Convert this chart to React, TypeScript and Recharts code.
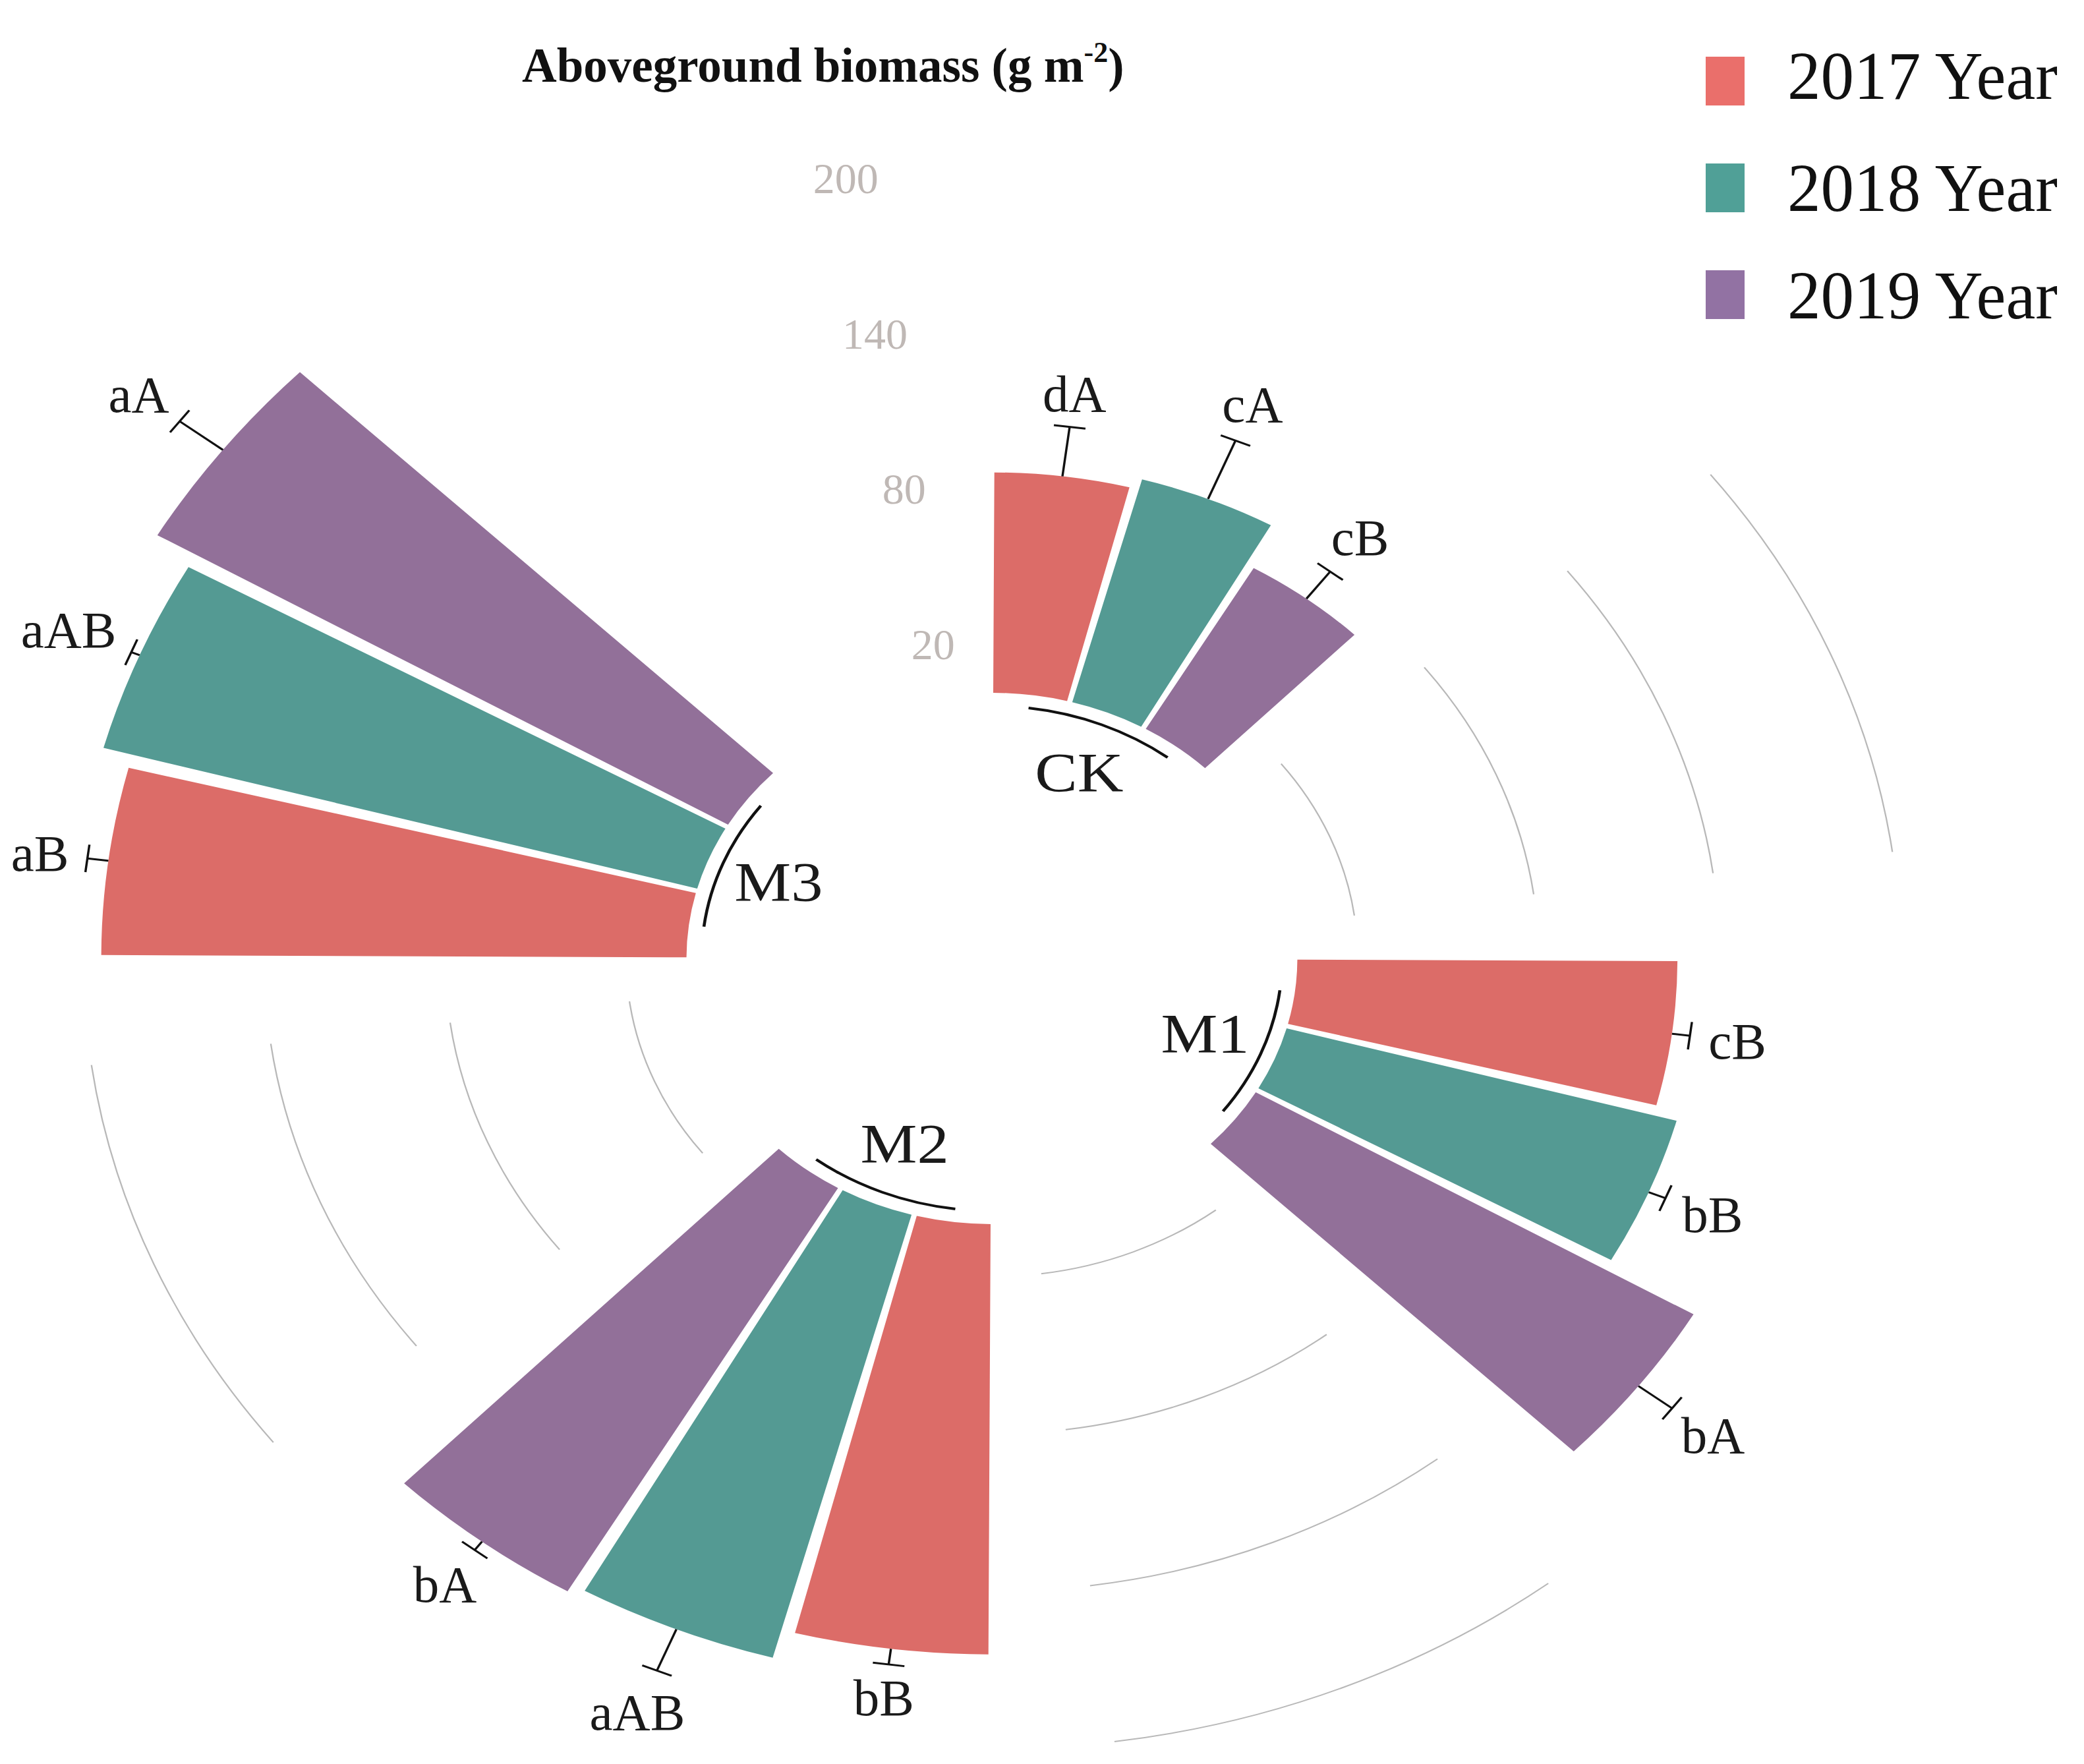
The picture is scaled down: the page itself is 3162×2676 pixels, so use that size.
import React from "react";
import { RadialBarChart, RadialBar, PolarAngleAxis, PolarRadiusAxis, Sector } from "recharts";

// treatments and years
const groups = ["CK", "M1", "M2", "M3"];
const years = ["2017 Year", "2018 Year", "2019 Year"];

// aboveground biomass (g m-2), one value per treatment
const biomass2017 = [84, 126, 164, 194];
const biomass2018 = [88, 134, 175, 204];
const biomass2019 = [71, 168, 178, 219];

// error bars (upper part)
const err2017 = [19, 6, 6, 7];
const err2018 = [24, 6, 17, 3];
const err2019 = [13, 14, 4, 18];

// significance letters
const letters2017 = ["dA", "cB", "bB", "aB"];
const letters2018 = ["cA", "bB", "aAB", "aAB"];
const letters2019 = ["cB", "bA", "bA", "aA"];

const radiusTicks = [20, 80, 140, 200];

const COLORS = ["#DC6C68", "#549A93", "#927099"];
const LEGEND_COLORS = ["#EA6F6B", "#50A097", "#9272A3"];
const FONT = "'Times New Roman', 'Liberation Serif', serif";

// the plot panel of the original is stretched horizontally
const S = 1.15;
const W = 3162;
const H = 2676;
const CX = 1505;
const CY = 1454;
const R0 = 403;
const MAX = 250;
const R1 = R0 + 3.98 * MAX;

const values = [biomass2017, biomass2018, biomass2019];
const errs = [err2017, err2018, err2019];
const letters = [letters2017, letters2018, letters2019];
const topTick = radiusTicks[radiusTicks.length - 1];

type Row = {
  key: string;
  kind: "bar" | "gap" | "grid" | "ticks";
  value: number;
  si?: number;
  group?: string;
  err?: number;
  letter?: string;
};

const rows: Row[] = [];
groups.forEach((g, gi) => {
  years.forEach((_, si) => {
    rows.push({
      key: `${g}-${si}`,
      kind: "bar",
      value: values[si][gi],
      si,
      group: g,
      err: errs[si][gi],
      letter: letters[si][gi],
    });
  });
  const last = gi === groups.length - 1;
  rows.push({ key: `${g}-gap0`, kind: "gap", value: 0 });
  rows.push({ key: `${g}-gap1`, kind: last ? "gap" : "grid", value: last ? 0 : topTick });
  rows.push({ key: `${g}-gap2`, kind: last ? "ticks" : "gap", value: last ? topTick : 0 });
});

const SLOT = 360 / rows.length;
const RAD = Math.PI / 180;

const pt = (cx: number, cy: number, r: number, a: number) => ({
  x: cx + r * Math.cos(-a * RAD),
  y: cy + r * Math.sin(-a * RAD),
});

const arcPath = (cx: number, cy: number, r: number, a1: number, a2: number) => {
  const p1 = pt(cx, cy, r, a1);
  const p2 = pt(cx, cy, r, a2);
  return `M${p1.x},${p1.y} A${r},${r} 0 0 1 ${p2.x},${p2.y}`;
};

const textWidth = (s: string, size: number) =>
  s.split("").reduce((w, c) => w + (c >= "A" && c <= "Z" ? 0.7 : 0.47), 0) * size;

// text drawn without the panel stretch unless asked
const Label = ({ x, y, size, fill, stretched, children }: any) => (
  <text
    transform={`translate(${x},${y})${stretched ? "" : ` scale(${1 / S},1)`}`}
    textAnchor="middle"
    dominantBaseline="central"
    fontFamily={FONT}
    fontSize={size}
    fill={fill}
  >
    {children}
  </text>
);

const BarShape = (props: any) => {
  const { cx, cy, innerRadius, outerRadius, startAngle, endAngle, payload } = props;
  const row: Row = payload;
  const mid = (startAngle + endAngle) / 2;

  if (row.kind === "gap") return <g />;

  if (row.kind === "grid") {
    return (
      <g>
        {radiusTicks.map((t) => {
          const r = innerRadius + ((outerRadius - innerRadius) * t) / row.value;
          return (
            <path
              key={t}
              d={arcPath(cx, cy, r, mid + SLOT, mid - SLOT)}
              fill="none"
              stroke="#B8B8B8"
              strokeWidth={2}
            />
          );
        })}
      </g>
    );
  }

  if (row.kind === "ticks") {
    return (
      <g>
        {radiusTicks.map((t) => {
          const r = innerRadius + ((outerRadius - innerRadius) * t) / row.value;
          const p = pt(cx, cy, r, mid + 1.5);
          return (
            <Label key={t} x={p.x} y={p.y} size={66} fill="#BFB8B5">
              {t}
            </Label>
          );
        })}
      </g>
    );
  }

  const color = COLORS[row.si as number];
  const ppu = (outerRadius - innerRadius) / row.value;
  const capR = outerRadius + (row.err as number) * ppu;
  const base = pt(cx, cy, outerRadius, mid);
  const tip = pt(cx, cy, capR, mid);
  const dx = Math.cos(-mid * RAD);
  const dy = Math.sin(-mid * RAD);
  const half = 21;

  const size = 79;
  const hw = textWidth(row.letter as string, size) / 2 / S;
  const hh = 0.33 * size;
  const ext = hw * Math.abs(dx) + hh * Math.abs(dy);
  const lp = pt(cx, cy, capR + 20 + ext, mid);

  return (
    <g>
      <Sector
        cx={cx}
        cy={cy}
        innerRadius={innerRadius}
        outerRadius={outerRadius}
        startAngle={startAngle}
        endAngle={endAngle}
        fill={color}
      />
      <line x1={base.x} y1={base.y} x2={tip.x} y2={tip.y} stroke="#111" strokeWidth={3} />
      <line
        x1={tip.x - dy * half}
        y1={tip.y + dx * half}
        x2={tip.x + dy * half}
        y2={tip.y - dx * half}
        stroke="#111"
        strokeWidth={3}
      />
      <Label x={lp.x} y={lp.y} size={size} fill="#1A1A1A">
        {row.letter}
      </Label>
      {row.si === 1 && (
        <g>
          <path
            d={arcPath(cx, cy, innerRadius - 20, mid + SLOT, mid - SLOT)}
            fill="none"
            stroke="#111"
            strokeWidth={4}
          />
          {(() => {
            const gp = pt(cx, cy, innerRadius - 99, mid);
            return (
              <Label x={gp.x} y={gp.y} size={84} fill="#1A1A1A" stretched>
                {row.group}
              </Label>
            );
          })()}
        </g>
      )}
    </g>
  );
};

const legendTop = [86, 248, 410];
const legendBase = [150, 320, 483];

export default function App() {
  return (
    <div
      style={{
        position: "absolute",
        left: 0,
        top: 0,
        width: W,
        height: H,
        overflow: "hidden",
        background: "#fff",
      }}
    >
      <div
        style={{
          position: "absolute",
          left: 0,
          top: 0,
          transform: `scaleX(${S})`,
          transformOrigin: `${CX}px ${CY}px`,
        }}
      >
        <RadialBarChart
          width={W}
          height={H}
          cx={CX}
          cy={CY}
          innerRadius={R0}
          outerRadius={R1}
          startAngle={90 - SLOT}
          endAngle={-270 - SLOT}
          data={rows}
          layout="centric"
          barCategoryGap="5%"
          margin={{ top: 0, right: 0, bottom: 0, left: 0 }}
        >
          <PolarAngleAxis
            type="category"
            dataKey="key"
            tick={false}
            tickLine={false}
            axisLine={false}
          />
          <PolarRadiusAxis
            type="number"
            domain={[0, MAX]}
            allowDataOverflow
            tick={false}
            tickLine={false}
            axisLine={false}
          />
          <RadialBar dataKey="value" shape={(p: any) => <BarShape {...p} />} isAnimationActive={false} />
        </RadialBarChart>
      </div>
      <svg
        width={W}
        height={H}
        style={{ position: "absolute", left: 0, top: 0, pointerEvents: "none" }}
      >
        <text x={792} y={124} fontFamily={FONT} fontWeight="bold" fontSize={73} fill="#111">
          Aboveground biomass (g m
          <tspan fontSize={44} dy={-30}>
            -2
          </tspan>
          <tspan dy={30}>)</tspan>
        </text>
        {years.map((y, i) => (
          <g key={y}>
            <rect x={2588} y={legendTop[i]} width={59} height={74} fill={LEGEND_COLORS[i]} />
            <text
              x={2712}
              y={legendBase[i]}
              fontFamily={FONT}
              fontSize={104}
              fill="#111"
              textLength={410}
              lengthAdjust="spacingAndGlyphs"
            >
              {y}
            </text>
          </g>
        ))}
      </svg>
    </div>
  );
}
